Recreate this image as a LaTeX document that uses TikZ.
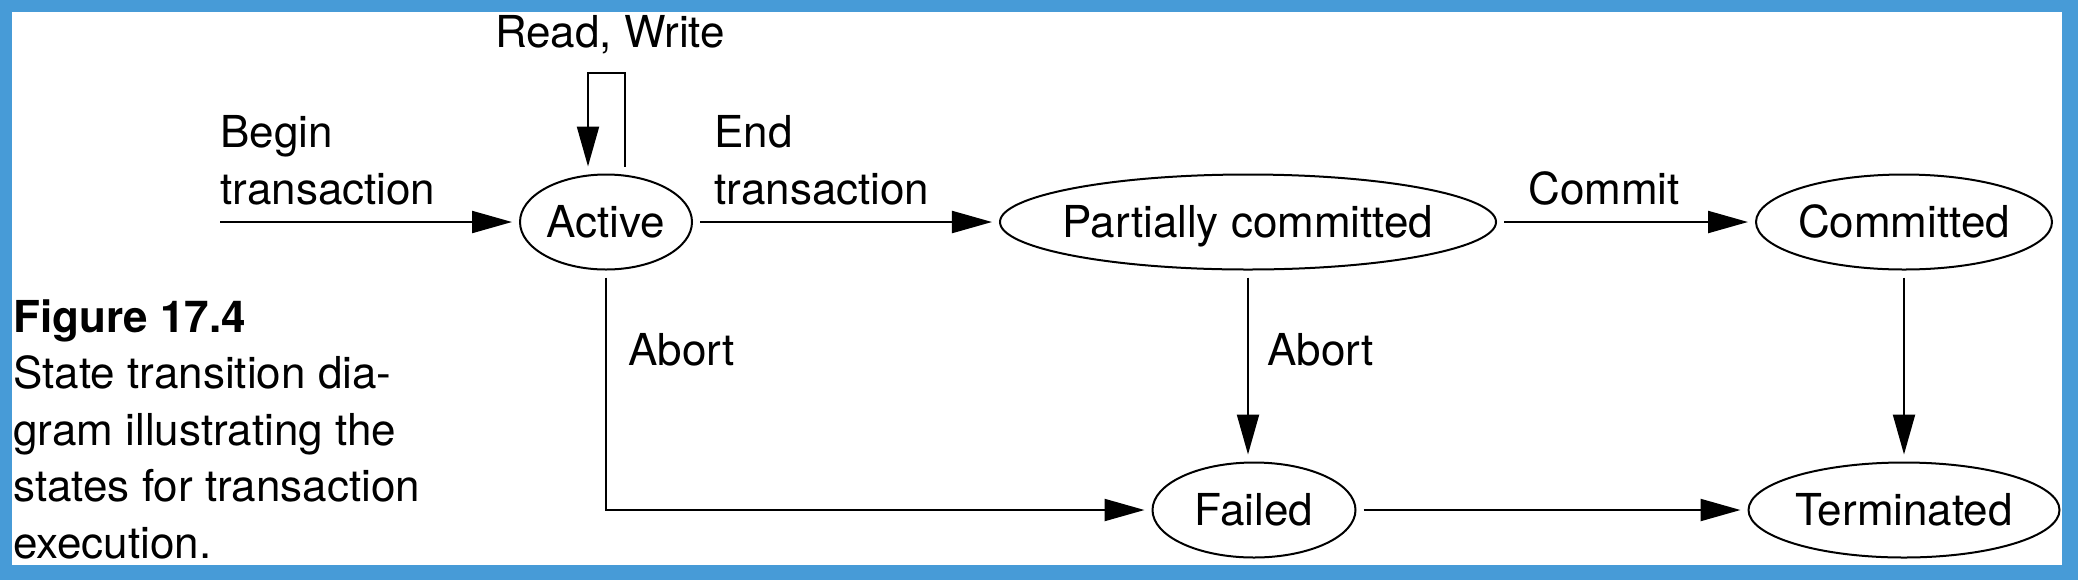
\documentclass[tikz,border=0pt]{standalone}
\usepackage{fontspec}
\setmainfont{TeX Gyre Heros}
\usetikzlibrary{shapes.geometric,arrows.meta}
\definecolor{frameblue}{RGB}{71,155,215}
\begin{document}
\begin{tikzpicture}[x=0.5pt,y=-0.5pt,
  state/.style={ellipse,draw,line width=1pt,inner xsep=-5pt,inner ysep=0pt,outer sep=4pt,
    minimum height=47.5pt,text height=15.8pt,text depth=0pt,font=\fontsize{22}{28}\selectfont},
  arr/.style={line width=1.1pt,-{Triangle[length=20pt,width=11pt]}},
  lbl/.style={inner sep=0pt,font=\fontsize{22}{28.2}\selectfont,align=left}]
\fill[frameblue] (0,0) rectangle (2078,580);
\fill[white] (12,12) rectangle (2062,565);
\useasboundingbox (0,0) rectangle (2078,580);

\node[state,minimum width=86pt] (Active) at (606,222) {Active};
\node[state,minimum width=248pt] (PC) at (1248,222) {Partially committed};
\node[state,minimum width=148pt] (Committed) at (1904,222) {Committed};
\node[state,minimum width=101.5pt] (Failed) at (1254,510) {Failed};
\node[state,minimum width=155.5pt] (Terminated) at (1904,510) {Terminated};

\coordinate (bt) at (220,222);
\coordinate (rwR) at (625,73);
\coordinate (rwL) at (588,73);

\draw[arr] (bt) -- (Active.west);
\draw[arr] (Active.north -| rwR) -- (rwR) -- (rwL) -- (Active.north -| rwL);
\draw[arr] (Active) -- (PC);
\draw[arr] (PC) -- (Committed);
\draw[arr] (PC.south) -- (PC.south |- Failed.north);
\draw[arr] (Committed) -- (Terminated);
\draw[arr] (Failed) -- (Terminated);
\draw[arr] (Active.south) |- (Failed.west);

\node[lbl,anchor=base] (lrw) at (610,47) {Read, Write};
\node[lbl,anchor=base west] (lbegin) at (220,204) {Begin\\transaction};
\node[lbl,anchor=base west] (lend) at (714,204) {End\\transaction};
\node[lbl,anchor=base west] (lcommit) at (1528,204) {Commit};
\node[lbl,anchor=base west] (labort1) at (628,365) {Abort};
\node[lbl,anchor=base west] (labort2) at (1267,365) {Abort};
\node[lbl,anchor=base west] (cap) at (13,558) {\textbf{Figure 17.4}\\State transition dia-\\gram illustrating the\\states for transaction\\execution.};
\end{tikzpicture}
\end{document}
